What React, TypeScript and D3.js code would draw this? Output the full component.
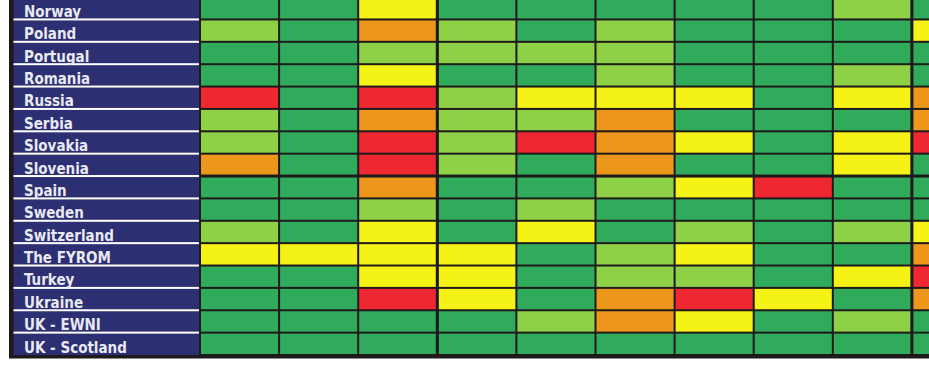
import React, { useEffect, useRef } from 'react';
import * as d3 from 'd3';

// rows of the table
const countries = [
  'Norway', 'Poland', 'Portugal', 'Romania', 'Russia', 'Serbia', 'Slovakia', 'Slovenia',
  'Spain', 'Sweden', 'Switzerland', 'The FYROM', 'Turkey', 'Ukraine', 'UK - EWNI', 'UK - Scotland'
];

// 1 = good (dark green) ... 5 = bad (red), 10 columns (last one cut off)
const scores = [
  [1, 1, 3, 1, 1, 1, 1, 1, 2, 1],
  [2, 1, 4, 2, 1, 2, 1, 1, 1, 3],
  [1, 1, 2, 2, 2, 2, 1, 1, 1, 1],
  [1, 1, 3, 1, 1, 2, 1, 1, 2, 1],
  [5, 1, 5, 2, 3, 3, 3, 1, 3, 4],
  [2, 1, 4, 2, 2, 4, 1, 1, 1, 4],
  [2, 1, 5, 2, 5, 4, 3, 1, 3, 5],
  [4, 1, 5, 2, 1, 4, 1, 1, 3, 1],
  [1, 1, 4, 1, 1, 2, 3, 5, 1, 1],
  [1, 1, 2, 1, 2, 1, 1, 1, 1, 1],
  [2, 1, 3, 1, 3, 1, 2, 1, 2, 3],
  [3, 3, 3, 3, 1, 2, 3, 1, 1, 4],
  [1, 1, 3, 3, 1, 2, 2, 1, 3, 5],
  [1, 1, 5, 3, 1, 4, 5, 3, 1, 4],
  [1, 1, 1, 1, 2, 4, 3, 1, 2, 1],
  [1, 1, 1, 1, 1, 1, 1, 1, 1, 1]
];

const levels = [1, 2, 3, 4, 5];
const levelColors = ['#30ab5c', '#8ed146', '#f5f215', '#ec971c', '#ef2730'];

function App() {
  const ref = useRef<SVGSVGElement>(null);
  const width = 929;
  const height = 366;

  useEffect(() => {
    const svg = d3.select(ref.current);
    svg.selectAll('*').remove();

    const nCols = scores[0].length;
    const labelLeft = 13.5;
    const labelRight = 199;
    const bottom = 355;
    const lineColor = '#1e1a1b';

    const y = d3.scaleBand<string>()
      .domain(countries)
      .range([bottom - 22.37 * countries.length, bottom]);

    const x = d3.scaleBand<number>()
      .domain(d3.range(nCols))
      .range([200, 200 + 79.1 * nCols]);

    const color = d3.scaleOrdinal<number, string>().domain(levels).range(levelColors);

    // dark grid background + left frame
    svg.append('rect')
      .attr('x', 9)
      .attr('y', 0)
      .attr('width', width - 9)
      .attr('height', bottom + 3.5)
      .attr('fill', lineColor);

    // label column
    svg.append('rect')
      .attr('x', labelLeft)
      .attr('y', 0)
      .attr('width', labelRight - labelLeft)
      .attr('height', bottom)
      .attr('fill', '#2c2f72');

    const rows = svg.selectAll('g.row')
      .data(countries)
      .join('g')
      .attr('class', 'row');

    // white separators under the labels
    rows.filter((d, i) => i < countries.length - 1)
      .append('rect')
      .attr('x', labelLeft)
      .attr('y', d => (y(d) as number) + y.bandwidth() - 1)
      .attr('width', labelRight - labelLeft)
      .attr('height', 2)
      .attr('fill', '#ffffff');

    rows.append('text')
      .attr('x', 24)
      .attr('y', d => (y(d) as number) + y.bandwidth() - 2.5)
      .attr('font-family', '"DejaVu Sans Condensed", "DejaVu Sans", sans-serif')
      .attr('font-weight', 'bold')
      .attr('font-size', '15px')
      .attr('fill', '#e9e9f2')
      .text(d => d);

    // cells
    rows.each(function (d, i) {
      d3.select(this).selectAll('rect.cell')
        .data(scores[i])
        .join('rect')
        .attr('class', 'cell')
        .attr('x', (v, j) => (x(j) as number) + 1)
        .attr('y', (y(d) as number) + 1)
        .attr('width', x.bandwidth() - 2)
        .attr('height', y.bandwidth() - 2)
        .attr('fill', v => color(v));
    });

    // slightly heavier group dividers
    svg.selectAll('rect.vdiv')
      .data([3, 9])
      .join('rect')
      .attr('class', 'vdiv')
      .attr('x', j => (x(j) as number) - 1.5)
      .attr('y', 0)
      .attr('width', 3)
      .attr('height', bottom)
      .attr('fill', lineColor);

    svg.selectAll('rect.hdiv')
      .data([countries[8]])
      .join('rect')
      .attr('class', 'hdiv')
      .attr('x', labelRight)
      .attr('y', d => (y(d) as number) - 1.5)
      .attr('width', width - labelRight)
      .attr('height', 3)
      .attr('fill', lineColor);
  }, []);

  return (
    <svg
      ref={ref}
      width={width}
      height={height}
      style={{ position: 'absolute', left: 0, top: 0, background: '#ffffff' }}
    />
  );
}

export default App;
